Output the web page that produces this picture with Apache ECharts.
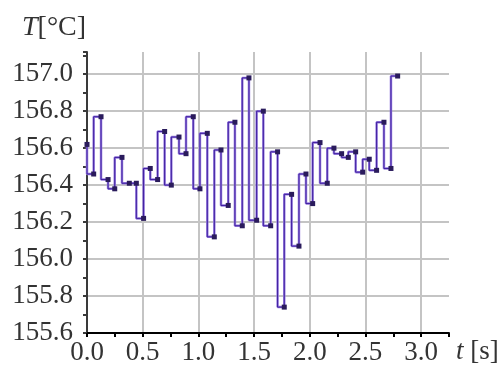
<!DOCTYPE html>
<html>
<head>
<meta charset="utf-8">
<script src="https://cdn.jsdelivr.net/npm/echarts@6/dist/echarts.min.js"></script>
<style>
  html, body { margin: 0; padding: 0; background: #fff; }
  #chart { width: 498px; height: 369px; }
</style>
</head>
<body>
<div id="chart"></div>
<script>
// Sample times [s]
const times = [
  0.000, 0.060, 0.126, 0.189, 0.249, 0.314, 0.380, 0.443, 0.508, 0.568,
  0.634, 0.697, 0.757, 0.826, 0.889, 0.954, 1.014, 1.080, 1.143, 1.203,
  1.268, 1.328, 1.394, 1.454, 1.523, 1.583, 1.649, 1.711, 1.771, 1.837,
  1.903, 1.966, 2.026, 2.092, 2.157, 2.217, 2.286, 2.346, 2.412, 2.475,
  2.534, 2.600, 2.666, 2.729, 2.789
];
// Temperature readings [°C]
const temps = [
  156.62, 156.46, 156.77, 156.43, 156.38, 156.55, 156.41, 156.41, 156.22, 156.49,
  156.43, 156.69, 156.40, 156.66, 156.57, 156.77, 156.38, 156.68, 156.12, 156.59,
  156.29, 156.74, 156.18, 156.98, 156.21, 156.80, 156.18, 156.58, 155.74, 156.35,
  156.07, 156.46, 156.30, 156.63, 156.41, 156.60, 156.57, 156.55, 156.58, 156.47,
  156.54, 156.48, 156.74, 156.49, 156.99
];
// Axis ranges and labelled ticks
const xRange = [0, 3.25];
const yRange = [155.6, 157.12];
const xTickLabels = ['0.0', '0.5', '1.0', '1.5', '2.0', '2.5', '3.0'];
const yTickLabels = ['155.6', '155.8', '156.0', '156.2', '156.4', '156.6', '156.8', '157.0'];

const points = times.map((t, i) => [t, temps[i]]);
const serif = 'Liberation Serif';
const textColor = '#333';

const chart = echarts.init(document.getElementById('chart'), null, { renderer: 'canvas' });

chart.setOption({
  animation: false,
  backgroundColor: '#fff',
  textStyle: { fontFamily: serif },
  grid: { left: 87, right: 49, top: 52, bottom: 36 },
  xAxis: [
    {
      type: 'value', min: xRange[0], max: xRange[1], interval: 0.25,
      axisLine: { lineStyle: { color: '#000', width: 2 } },
      axisTick: { show: true, length: 4, inside: false, lineStyle: { color: '#000', width: 2 } },
      axisLabel: {
        margin: 6, color: textColor, fontFamily: serif, fontSize: 27,
        formatter: v => { const s = v.toFixed(1); return xTickLabels.includes(s) && Math.abs(v * 2 - Math.round(v * 2)) < 1e-6 ? s : ''; }
      },
      splitLine: { show: false }
    },
    {
      type: 'value', min: xRange[0], max: xRange[1], interval: 0.5,
      axisLine: { show: false }, axisTick: { show: false }, axisLabel: { show: false },
      splitLine: { show: true, showMinLine: false, showMaxLine: false, lineStyle: { color: '#c4c4c4', width: 2 } }
    }
  ],
  yAxis: [
    {
      type: 'value', min: yRange[0], max: yRange[1], interval: 0.1,
      axisLine: { show: true, lineStyle: { color: '#3a3a3a', width: 2 } },
      axisTick: { show: true, length: 4, inside: false, lineStyle: { color: '#3a3a3a', width: 2 } },
      axisLabel: {
        margin: 14, color: textColor, fontFamily: serif, fontSize: 27,
        formatter: v => { const s = v.toFixed(1); const k = Math.round((v - yRange[0]) * 10); return (k % 2 === 0 && yTickLabels.includes(s)) ? s : ''; }
      },
      splitLine: { show: false }
    },
    {
      type: 'value', min: yRange[0], max: yRange[1], interval: 0.2,
      axisLine: { show: false }, axisTick: { show: false }, axisLabel: { show: false },
      splitLine: { show: true, showMinLine: false, showMaxLine: false, lineStyle: { color: '#c4c4c4', width: 2 } }
    }
  ],
  series: [
    {
      type: 'line', xAxisIndex: 0, yAxisIndex: 0, step: 'start',
      data: points, symbol: 'none',
      lineStyle: { color: '#9a80e0', width: 2.5 },
      z: 2
    },
    {
      type: 'line', xAxisIndex: 0, yAxisIndex: 0, step: 'start',
      data: points, showAllSymbol: true,
      symbol: 'rect', symbolSize: 5,
      itemStyle: { color: '#2a1b5c' },
      lineStyle: { color: '#3d1c9e', width: 1 },
      z: 3
    }
  ],
  graphic: [
    {
      type: 'text', left: 22, top: 14,
      style: {
        text: '{i|T}[°C]',
        fontFamily: serif, fontSize: 28, fill: textColor,
        rich: { i: { fontStyle: 'italic', fontFamily: serif, fontSize: 28, fill: textColor } }
      }
    },
    {
      type: 'text', left: 456, top: 338,
      style: {
        text: '{i|t} [s]',
        fontFamily: serif, fontSize: 27, fill: textColor,
        rich: { i: { fontStyle: 'italic', fontFamily: serif, fontSize: 27, fill: textColor } }
      }
    }
  ]
});
</script>
</body>
</html>
